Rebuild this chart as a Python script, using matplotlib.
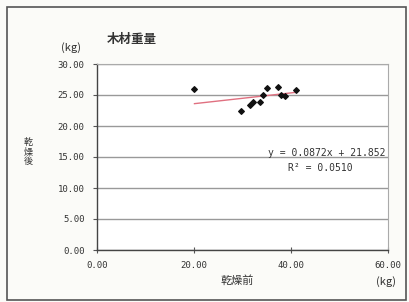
import matplotlib.pyplot as plt
import numpy as np
from matplotlib.patches import Rectangle

plt.rcParams['font.family'] = ['Noto Sans CJK JP', 'DejaVu Sans']

# wood weight before / after drying (kg)
before = [20.1, 29.6, 31.5, 32.1, 33.6, 34.3, 35.0, 37.3, 37.9, 38.8, 41.0]
after = [26.0, 22.5, 23.4, 23.8, 23.8, 25.0, 26.2, 26.3, 25.0, 24.8, 25.8]
yticks = [0, 5, 10, 15, 20, 25, 30]
xticks = [0, 20, 40, 60]
slope, intercept = 0.0872, 21.852
eq_text = "y = 0.0872x + 21.852"
r2_text = "R² = 0.0510"

mono = ['DejaVu Sans Mono']

fig = plt.figure(figsize=(4.09, 3.02), dpi=100)
fig.patch.set_facecolor('#fbfbf8')
fig.patches.append(Rectangle((7 / 409, 2 / 302), 399 / 409, 293 / 302,
                             transform=fig.transFigure, fill=False,
                             edgecolor='#555555', linewidth=1.2))

ax = fig.add_axes([97 / 409, 52 / 302, 291 / 409, 186 / 302])
ax.set_facecolor('white')
ax.set_xlim(0, 60)
ax.set_ylim(0, 30)
ax.set_xticks(xticks)
ax.set_yticks(yticks)
ax.set_xticklabels([f"{v:.2f}" for v in xticks], fontsize=6.5,
                   color='#333333', family=mono)
ax.set_yticklabels([f"{v:.2f}" for v in yticks], fontsize=6.5,
                   color='#333333', family=mono)
ax.tick_params(axis='x', direction='inout', length=4, width=0.8,
               colors='#555555', pad=6)
ax.tick_params(axis='y', direction='out', length=3, width=0.8,
               colors='#555555', pad=6)
for lbl in ax.get_xticklabels() + ax.get_yticklabels():
    lbl.set_color('#333333')
ax.grid(axis='y', color='#999999', linewidth=1.0)
ax.set_axisbelow(True)
for side in ['left', 'bottom']:
    ax.spines[side].set_color('#444444')
    ax.spines[side].set_linewidth(1.0)
for side in ['top', 'right']:
    ax.spines[side].set_color('#aaaaaa')
    ax.spines[side].set_linewidth(0.8)

xs = np.array([min(before), max(before)])
ax.plot(xs, slope * xs + intercept, color='#e07080', linewidth=1.0)
ax.scatter(before, after, marker='D', s=8, color='#111111', zorder=3)

ax.text(0.99, 0.52, eq_text, transform=ax.transAxes, ha='right', va='center',
        fontsize=7, color='#333333', family=mono)
ax.text(0.88, 0.44, r2_text, transform=ax.transAxes, ha='right', va='center',
        fontsize=7, color='#333333', family=mono)

fig.text(107 / 409, 1 - 39 / 302, "木材重量", fontsize=9, fontweight='bold',
         color='#333333', va='center')
fig.text(71 / 409, 1 - 48 / 302, "(kg)", fontsize=8, color='#333333',
         ha='center', va='center')
fig.text(28 / 409, 1 - 152 / 302, "乾\n燥\n後", fontsize=6.5, color='#333333',
         ha='center', va='center', linespacing=1.1)
fig.text(237 / 409, 1 - 280 / 302, "乾燥前", fontsize=8, color='#333333',
         ha='center', va='center')
fig.text(386 / 409, 1 - 282 / 302, "(kg)", fontsize=8, color='#333333',
         ha='center', va='center')

fig.savefig('out.png', dpi=100, facecolor=fig.get_facecolor())
